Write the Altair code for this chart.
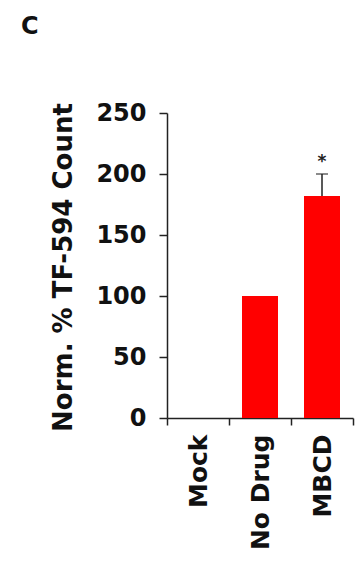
import altair as alt
import pandas as pd

categories = ["Mock", "No Drug", "MBCD"]
values = [0, 100, 182]
err_upper = [None, None, 200]
sig_labels = ["", "", "*"]

df = pd.DataFrame({"cat": categories, "val": values, "hi": err_upper, "sig": sig_labels})
FONT = "DejaVu Sans"

x_enc = alt.X(
    "cat:N", sort=categories,
    scale=alt.Scale(paddingInner=0, paddingOuter=0),
    axis=alt.Axis(
        title=None, labelAngle=270, labelFont=FONT, labelFontSize=25, labelFontWeight="bold",
        labelColor="#111", labelPadding=9, tickBand="extent", tickSize=7, tickColor="#222",
        tickWidth=1.5, domainColor="#222", domainWidth=1.5, labelAlign="right", labelBaseline="middle",
    ),
)

y_scale = alt.Scale(domain=[0, 250], nice=False)

bars = alt.Chart(df).mark_bar(color="#ff0000", size=36).encode(
    x=x_enc,
    y=alt.Y(
        "val:Q", scale=y_scale,
        axis=alt.Axis(
            title="Norm. % TF-594 Count", values=[0, 50, 100, 150, 200, 250],
            labelFont=FONT, labelFontSize=24, labelFontWeight="bold", labelColor="#111",
            labelPadding=13, tickSize=8, tickColor="#222", tickWidth=1.5,
            domainColor="#222", domainWidth=1.5, grid=False,
            titleFont=FONT, titleFontSize=26, titleFontWeight="bold", titleColor="#111",
            titleX=-91, titleY=154, titleAngle=270, titleBaseline="bottom", titleAlign="center",
        ),
    ),
)

base = alt.Chart(df).transform_filter("datum.hi != null")

err = base.mark_rule(color="#222", strokeWidth=1.5).encode(
    x=alt.X("cat:N", sort=categories), y=alt.Y("val:Q", scale=y_scale), y2="hi:Q"
)
cap = base.mark_tick(color="#222", thickness=1.5, size=12, orient="horizontal").encode(
    x=alt.X("cat:N", sort=categories), y=alt.Y("hi:Q", scale=y_scale)
)
star = base.mark_text(font=FONT, fontSize=17, fontWeight="bold", color="#222", baseline="alphabetic", dy=-7).encode(
    x=alt.X("cat:N", sort=categories), y=alt.Y("hi:Q", scale=y_scale), text="sig:N"
)

chart = alt.layer(bars, err, cap, star).properties(
    width=186, height=305,
    autosize=alt.AutoSizeParams(type="none"),
    padding={"left": 159, "top": 105, "right": 2, "bottom": 136},
    title=alt.TitleParams(
        "C", anchor="start", frame="group", font=FONT, fontSize=24, fontWeight="bold",
        color="#111", dx=-146, dy=-62, offset=0,
    ),
).configure_view(stroke=None)

chart.save("out.html", embed_options={"renderer": "svg", "actions": False})
